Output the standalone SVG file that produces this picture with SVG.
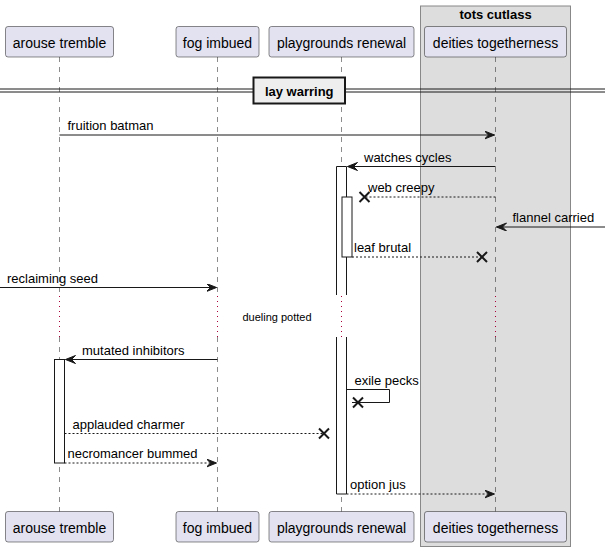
<svg xmlns="http://www.w3.org/2000/svg" xmlns:xlink="http://www.w3.org/1999/xlink" width="605" height="552" viewBox="0 0 605 552">
<style>
.pbox{fill:#E2E2F0;stroke:#181818;stroke-width:0.5;}
.ptxt{font-family:"Liberation Sans",Arial,sans-serif;font-size:14px;fill:#000;text-anchor:middle;}
.life{stroke:#181818;stroke-width:0.5;stroke-dasharray:5,5;fill:none;}
.delay{stroke:#A80036;stroke-width:1;stroke-dasharray:1,4;fill:none;}
.act{fill:#FFFFFF;stroke:#181818;stroke-width:1;}
.actl{fill:none;stroke:#181818;stroke-width:1;}
.msg{stroke:#181818;stroke-width:1;fill:none;}
.dash{stroke-dasharray:2,2;}
.lbl{font-family:"Liberation Sans",Arial,sans-serif;font-size:13px;fill:#000;}
.bold{font-family:"Liberation Sans",Arial,sans-serif;font-size:13px;font-weight:bold;fill:#000;text-anchor:middle;}
.xm{stroke:#181818;stroke-width:2;fill:none;}
</style>
<defs>
<marker id="arr" markerUnits="userSpaceOnUse" markerWidth="12" markerHeight="10" refX="10" refY="4" orient="auto" viewBox="0 0 12 10">
<path d="M0,0 L10,4 L0,8 L4,4 Z" fill="#181818" stroke="#181818" stroke-width="1"/>
</marker>
<path id="xx" d="M-5,-5 L5,5 M-5,5 L5,-5"/>
</defs>

<g id="group-tots-cutlass">
<rect x="420.5" y="6" width="150" height="540.5" fill="#DDDDDD" stroke="#888888" stroke-width="1"/>
<text class="bold" x="495.5" y="18.5">tots cutlass</text>
</g>

<g id="lifelines">
<line class="life" x1="59.5" y1="57" x2="59.5" y2="294"/>
<line class="life" x1="59.5" y1="337" x2="59.5" y2="512"/>
<line class="life" x1="217.5" y1="57" x2="217.5" y2="294"/>
<line class="life" x1="217.5" y1="337" x2="217.5" y2="512"/>
<line class="life" x1="341.5" y1="57" x2="341.5" y2="294"/>
<line class="life" x1="341.5" y1="337" x2="341.5" y2="512"/>
<line class="life" x1="495.5" y1="57" x2="495.5" y2="294"/>
<line class="life" x1="495.5" y1="337" x2="495.5" y2="512"/>
<line class="delay" x1="59.5" y1="296" x2="59.5" y2="337"/>
<line class="delay" x1="217.5" y1="296" x2="217.5" y2="337"/>
<line class="delay" x1="341.5" y1="296" x2="341.5" y2="337"/>
<line class="delay" x1="495.5" y1="296" x2="495.5" y2="337"/>
</g>

<g id="activations">
<rect x="336.5" y="166.5" width="10" height="128.5" fill="#FFFFFF" stroke="none"/>
<path class="actl" d="M336.5,295 V166.5 H346.5 V295"/>
<rect x="336.5" y="337" width="10" height="157" fill="#FFFFFF" stroke="none"/>
<path class="actl" d="M336.5,337 V494 H346.5 V337"/>
<rect class="act" x="342" y="197" width="10" height="60"/>
<rect class="act" x="54.5" y="359.5" width="10" height="103.5"/>
</g>

<g id="p-arouse-tremble">
<rect class="pbox" x="5.5" y="26.5" width="108" height="30.5" rx="2.5"/>
<text class="ptxt" x="59.5" y="47.5">arouse tremble</text>
<rect class="pbox" x="5.5" y="511.5" width="108" height="30.5" rx="2.5"/>
<text class="ptxt" x="59.5" y="532.5">arouse tremble</text>
</g>
<g id="p-fog-imbued">
<rect class="pbox" x="176" y="26.5" width="83" height="30.5" rx="2.5"/>
<text class="ptxt" x="217.5" y="47.5">fog imbued</text>
<rect class="pbox" x="176" y="511.5" width="83" height="30.5" rx="2.5"/>
<text class="ptxt" x="217.5" y="532.5">fog imbued</text>
</g>
<g id="p-playgrounds-renewal">
<rect class="pbox" x="269" y="26.5" width="145" height="30.5" rx="2.5"/>
<text class="ptxt" x="341.5" y="47.5">playgrounds renewal</text>
<rect class="pbox" x="269" y="511.5" width="145" height="30.5" rx="2.5"/>
<text class="ptxt" x="341.5" y="532.5">playgrounds renewal</text>
</g>
<g id="p-deities-togetherness">
<rect class="pbox" x="424.5" y="26.5" width="142" height="30.5" rx="2.5"/>
<text class="ptxt" x="495.5" y="47.5">deities togetherness</text>
<rect class="pbox" x="424.5" y="511.5" width="142" height="30.5" rx="2.5"/>
<text class="ptxt" x="495.5" y="532.5">deities togetherness</text>
</g>

<g id="divider-lay-warring">
<line x1="0" y1="89" x2="605" y2="89" stroke="#181818" stroke-width="1"/>
<line x1="0" y1="92" x2="605" y2="92" stroke="#181818" stroke-width="1"/>
<rect x="253.5" y="77.5" width="91.5" height="26" fill="#EEEEEE" stroke="#181818" stroke-width="2"/>
<text class="bold" x="299.2" y="95.5">lay warring</text>
</g>

<g id="delay-dueling-potted">
<text x="277" y="320.5" font-family="Liberation Sans, Arial, sans-serif" font-size="11" text-anchor="middle" fill="#000">dueling potted</text>
</g>

<g id="connectors">
<line class="msg" x1="59.5" y1="135" x2="494.5" y2="135" marker-end="url(#arr)"/>
<text class="lbl" x="67.5" y="130">fruition batman</text>

<line class="msg" x1="495.5" y1="166.5" x2="347.5" y2="166.5" marker-end="url(#arr)"/>
<text class="lbl" x="364" y="161.5">watches cycles</text>

<line class="msg dash" x1="495.5" y1="197" x2="364.5" y2="197"/>
<use href="#xx" xlink:href="#xx" class="xm" x="364.5" y="197"/>
<text class="lbl" x="368" y="192">web creepy</text>

<line class="msg" x1="605" y1="227" x2="496.5" y2="227" marker-end="url(#arr)"/>
<text class="lbl" x="512.5" y="222">flannel carried</text>

<line class="msg dash" x1="352" y1="257" x2="482" y2="257"/>
<use href="#xx" xlink:href="#xx" class="xm" x="482" y="257"/>
<text class="lbl" x="354" y="252">leaf brutal</text>

<line class="msg" x1="0" y1="287.5" x2="216.5" y2="287.5" marker-end="url(#arr)"/>
<text class="lbl" x="7" y="282.5">reclaiming seed</text>

<line class="msg" x1="217.5" y1="359.5" x2="65.5" y2="359.5" marker-end="url(#arr)"/>
<text class="lbl" x="82" y="354.5">mutated inhibitors</text>

<polyline class="msg" points="346.5,389.5 389.5,389.5 389.5,402.5 352,402.5"/>
<use href="#xx" xlink:href="#xx" class="xm" x="358" y="402.5"/>
<text class="lbl" x="354.5" y="384.5">exile pecks</text>

<line class="msg dash" x1="64.5" y1="433.5" x2="324" y2="433.5"/>
<use href="#xx" xlink:href="#xx" class="xm" x="324" y="433.5"/>
<text class="lbl" x="72.5" y="428.5">applauded charmer</text>

<line class="msg dash" x1="64.5" y1="463" x2="216.5" y2="463" marker-end="url(#arr)"/>
<text class="lbl" x="67.5" y="458">necromancer bummed</text>

<line class="msg dash" x1="346.5" y1="494" x2="494.5" y2="494" marker-end="url(#arr)"/>
<text class="lbl" x="350" y="489">option jus</text>
</g>
</svg>
